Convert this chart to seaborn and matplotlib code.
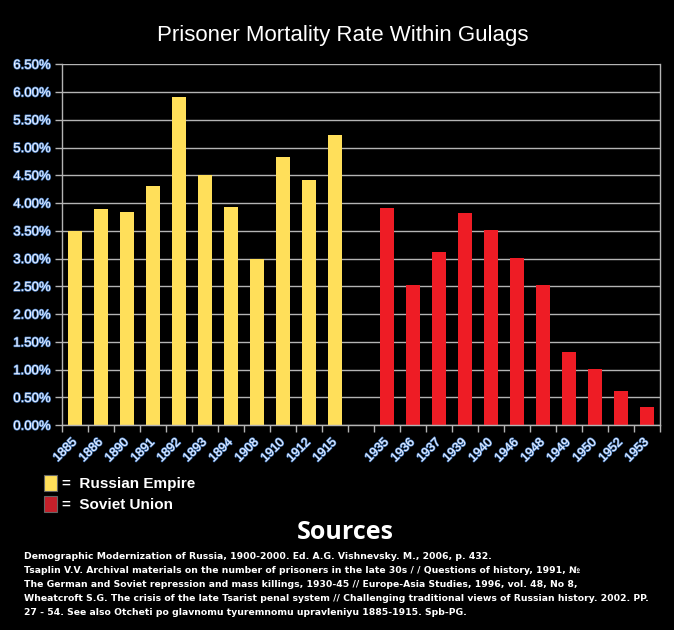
import numpy as np
import pandas as pd
import matplotlib
matplotlib.use("Agg")
import matplotlib.pyplot as plt
import matplotlib.patheffects as pe
from matplotlib.patches import Patch
from matplotlib.ticker import PercentFormatter, MultipleLocator
import seaborn as sns

# ---- data ----
empire_years = ["1885", "1886", "1890", "1891", "1892", "1893", "1894", "1908", "1910", "1912", "1915"]
empire_rates = [3.50, 3.89, 3.84, 4.31, 5.91, 4.50, 3.93, 3.00, 4.83, 4.41, 5.22]
soviet_years = ["1935", "1936", "1937", "1939", "1940", "1946", "1948", "1949", "1950", "1952", "1953"]
soviet_rates = [3.91, 2.52, 3.12, 3.82, 3.51, 3.01, 2.52, 1.32, 1.01, 0.61, 0.32]
series_names = ["Russian Empire", "Soviet Union"]
title = "Prisoner Mortality Rate Within Gulags"
sources = [
    "Demographic Modernization of Russia, 1900-2000. Ed. A.G. Vishnevsky. M., 2006, p. 432.",
    "Tsaplin V.V. Archival materials on the number of prisoners in the late 30s / / Questions of history, 1991, \u2116",
    "The German and Soviet repression and mass killings, 1930-45 // Europe-Asia Studies, 1996, vol. 48, No 8,",
    "Wheatcroft S.G. The crisis of the late Tsarist penal system // Challenging traditional views of Russian history. 2002. PP.",
    "27 - 54. See also Otcheti po glavnomu tyuremnomu upravleniyu 1885-1915. Spb-PG.",
]

df = pd.DataFrame({
    "year": empire_years + soviet_years,
    "rate": empire_rates + soviet_rates,
    "regime": [series_names[0]] * len(empire_years) + [series_names[1]] * len(soviet_years),
})
order = empire_years + [" "] + soviet_years

YELLOW = "#ffdf5a"
RED = "#ee1c25"
GRID = "#b4b4b4"
LBL = "#f0f4ff"

sns.set_theme(style="dark")
plt.rcParams["font.family"] = ["Liberation Sans", "DejaVu Sans"]

fig = plt.figure(figsize=(6.74, 6.30), dpi=100, facecolor="black")
ax = fig.add_axes([0.092, 0.325, 0.887, 0.573])
ax.set_facecolor("black")

sns.barplot(data=df, x="year", y="rate", hue="regime", order=order,
            palette={series_names[0]: YELLOW, series_names[1]: RED},
            dodge=False, width=0.54, saturation=1, legend=False, ax=ax,
            edgecolor="none", linewidth=0)

ax.set_xlim(-0.5, len(order) - 0.5)
ax.set_ylim(0, 6.5)
ax.yaxis.set_major_locator(MultipleLocator(0.5))
ax.yaxis.set_major_formatter(PercentFormatter(decimals=2))
ax.grid(axis="y", color=GRID, linewidth=1.0)
ax.grid(axis="x", visible=False)
ax.set_axisbelow(True)
ax.set_xlabel("")
ax.set_ylabel("")

for side in ["left", "right", "bottom"]:
    ax.spines[side].set_visible(True)
    ax.spines[side].set_color(GRID)
    ax.spines[side].set_linewidth(1.0)
ax.spines["top"].set_visible(False)

# ticks
ax.set_xticks(np.arange(-0.5, len(order), 1.0), minor=True)
ax.tick_params(axis="x", which="major", length=0, pad=11)
ax.tick_params(axis="x", which="minor", length=5, color=GRID, width=1, direction="out", bottom=True)
ax.tick_params(axis="y", which="major", length=5, color=GRID, width=1, direction="out", left=True, pad=3)

stroke = [pe.withStroke(linewidth=1.0, foreground="#4a7fc4")]
for lab in ax.get_xticklabels():
    lab.set_rotation(45)
    lab.set_ha("right")
    lab.set_va("center")
    lab.set_rotation_mode("anchor")
    lab.set_color(LBL)
    lab.set_fontsize(9)
    lab.set_path_effects(stroke)
for lab in ax.get_yticklabels():
    lab.set_color(LBL)
    lab.set_fontsize(9.5)
    lab.set_path_effects(stroke)

fig.text(0.508, 0.944, title, color="white", fontsize=16, ha="center", va="center")

handles = [Patch(facecolor=YELLOW, edgecolor="#666666", linewidth=0.8),
           Patch(facecolor="#c4202a", edgecolor="#666666", linewidth=0.8)]
leg = fig.legend(handles, ["=  " + s for s in series_names], loc="upper left",
                 bbox_to_anchor=(0.045, 0.268), frameon=False,
                 handlelength=0.85, handleheight=1.2, handletextpad=0.35,
                 labelspacing=0.35, prop={"weight": "bold", "size": 11})
for t in leg.get_texts():
    t.set_color("white")

fig.text(0.512, 0.155, "Sources", color="white", fontsize=18, weight="bold",
         ha="center", va="center", family=["Open Sans", "DejaVu Sans"])
y0 = 0.116
for i, line in enumerate(sources):
    fig.text(0.036, y0 - i * 0.0222, line, color="white", fontsize=6.7, weight="bold",
             ha="left", va="center", family=["DejaVu Sans"])

fig.savefig("out.png", dpi=100, facecolor="black")
